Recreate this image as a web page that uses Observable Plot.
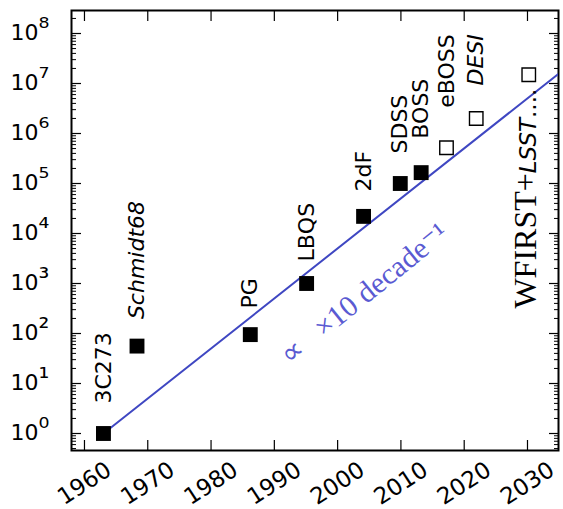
<!DOCTYPE html>
<html><head><meta charset="utf-8">
<script src="https://cdn.jsdelivr.net/npm/d3@7"></script>
<script src="https://cdn.jsdelivr.net/npm/@observablehq/plot@0.6"></script>
<style>html,body{margin:0;padding:0;background:#fff}svg{display:block}</style>
</head><body><div id="chart"></div>
<script>
// ---- data ----
const surveys = ["3C273", "Schmidt68", "PG", "LBQS", "2dF", "SDSS", "BOSS", "eBOSS", "DESI", "WFIRST+LSST...."];
const years   = [1963, 1968.3, 1986.2, 1995.1, 2004.1, 2009.9, 2013.2, 2017.2, 2021.9, 2030.2];
const counts  = [1, 56, 95, 1000, 2.2e4, 1.0e5, 1.65e5, 5.2e5, 2.0e6, 1.5e7];
const planned = [false, false, false, false, false, false, false, true, true, true];
const italic  = [false, true, false, false, false, false, false, false, true, false];
const trendYears  = [1963, 2035];
const trendCounts = [1, 1.6e7];
const xTicks = [1960, 1970, 1980, 1990, 2000, 2010, 2020, 2030];
const yTicks = [1e0, 1e1, 1e2, 1e3, 1e4, 1e5, 1e6, 1e7, 1e8];
const trendLabel = "\u221D   \u00D710 decade\u207B\u00B9";

// ---- layout (not data) ----
const labelOffset = [30, 27, 26, 22, 25, 30, 34, 40, 33, 0];

const pts = surveys.map((s, i) => ({survey: s, year: years[i], n: counts[i], planned: planned[i], italic: italic[i], off: labelOffset[i]}));
const trend = trendYears.map((y, i) => ({year: y, n: trendCounts[i]}));
const sup = d => String(Math.round(Math.log10(d))).split("").map(c => "\u2070\u00B9\u00B2\u00B3\u2074\u2075\u2076\u2077\u2078\u2079"[+c]).join("");

const normalLabels = pts.filter(d => d.survey !== "WFIRST+LSST....");
const lastLabel = pts.filter(d => d.survey === "WFIRST+LSST....");

const chart = Plot.plot({
  width: 563, height: 509,
  marginLeft: 71, marginRight: 5, marginTop: 10, marginBottom: 59,
  style: {fontFamily: "DejaVu Sans", fontSize: "21px", color: "black", background: "white"},
  x: {type: "linear", domain: [1957.95, 2034.9], label: null},
  y: {type: "log", domain: [Math.pow(10, -0.34), Math.pow(10, 8.46)], label: null},
  marks: [
    // minor + major inward ticks, y (left and right)
    Plot.axisY({ticks: 60, anchor: "left", tickSize: -5, tickFormat: () => "", strokeWidth: 1, label: null}),
    Plot.axisY({ticks: 60, anchor: "right", tickSize: -5, tickFormat: () => "", strokeWidth: 1, label: null}),
    Plot.axisY(yTicks, {anchor: "left", tickSize: -10, tickFormat: () => "", strokeWidth: 1.2, label: null}),
    Plot.axisY(yTicks, {anchor: "right", tickSize: -10, tickFormat: () => "", strokeWidth: 1.2, label: null}),
    // y tick labels: base and exponent
    Plot.axisY(yTicks, {anchor: "left", tickSize: 0, tickPadding: 33, tickFormat: () => "10", fontSize: 22, lineAnchor: "middle", dy: -1, label: null}),
    Plot.axisY(yTicks, {anchor: "left", tickSize: 0, tickPadding: 33, tickFormat: sup, textAnchor: "start", fontSize: 27, lineAnchor: "middle", dy: -5, label: null}),
    // x ticks inward, top and bottom
    Plot.axisX(xTicks, {anchor: "bottom", tickSize: -10, tickFormat: () => "", strokeWidth: 1.2, label: null}),
    Plot.axisX(xTicks, {anchor: "top", tickSize: -10, tickFormat: () => "", strokeWidth: 1.2, label: null}),
    Plot.axisX(xTicks, {anchor: "bottom", tickSize: 0, tickPadding: 33, tickRotate: -33, textAnchor: "middle", lineAnchor: "middle", tickFormat: d => String(d), fontSize: 23, label: null}),
    Plot.frame({stroke: "black", strokeWidth: 2}),
    // trend line
    Plot.line(trend, {x: "year", y: "n", stroke: "#3f47c2", strokeWidth: 2, clip: true}),
    Plot.text([0], {x: [2004.2], y: [620], text: [trendLabel], rotate: -39, fill: "#5a5ad2", fontFamily: "Liberation Serif", fontSize: 30, textAnchor: "middle", lineAnchor: "middle"}),
    // points
    Plot.dot(pts.filter(d => !d.planned), {x: "year", y: "n", symbol: "square", r: 8.4, fill: "black", stroke: "none"}),
    Plot.dot(pts.filter(d => d.planned), {x: "year", y: "n", symbol: "square", r: 7.6, fill: "white", stroke: "black", strokeWidth: 1.4}),
    // labels
    Plot.text(normalLabels, {x: "year", y: "n", text: "survey", rotate: -90, textAnchor: "start", lineAnchor: "middle", fontSize: 22,
      render: (index, scales, values, dims, ctx, next) => {
        const g = next(index, scales, values, dims, ctx);
        d3.select(g).selectAll("text").each(function(_, j) {
          const i = index[j];
          const t = d3.select(this);
          const tr = t.attr("transform");
          t.attr("transform", `translate(0,${-normalLabels[i].off}) ` + tr);
          if (normalLabels[i].italic) t.attr("font-style", "italic");
        });
        return g;
      }}),
    Plot.text(lastLabel, {x: "year", y: "n", text: "survey", rotate: -90, textAnchor: "end", lineAnchor: "middle", fontSize: 23, dy: 14})
  ]
});

// mixed fonts for the WFIRST+LSST label
d3.select(chart).selectAll("text").each(function() {
  const t = d3.select(this);
  if (t.text() === "WFIRST+LSST....") {
    t.text("");
    t.append("tspan").attr("font-family", "Liberation Serif").attr("font-size", 32).text("WFIRST+");
    t.append("tspan").attr("font-style", "italic").text("LSST");
    t.append("tspan").text("....");
  }
});

document.getElementById("chart").appendChild(chart);
</script>
</body></html>
